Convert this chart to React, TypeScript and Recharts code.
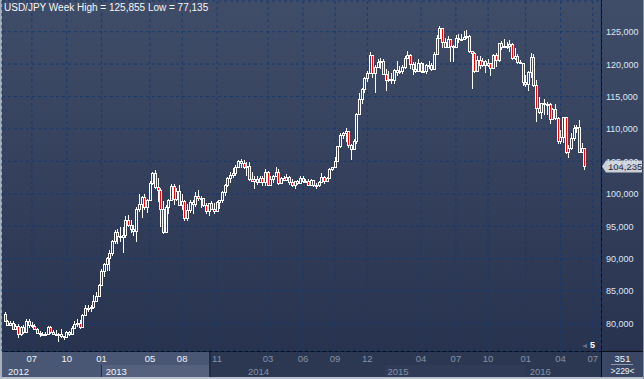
import React from 'react';
import { Bar, CartesianGrid, ComposedChart, ReferenceLine, XAxis, YAxis } from 'recharts';

const FONT = '"Liberation Sans", Arial, sans-serif';

// weekly USD/JPY candles, week of 23 Apr 2012 .. week of 13 Jun 2016
const firstOpen = 81.5;

const close2012 = [
  80.3, 79.8, 80.1, 79.2, 79.6, 78.3, 79.5, 78.7, 80.4, 79.8,
  79.6, 79.1, 78.5, 78.3, 78.4, 78.3, 79.5, 78.7, 78.3, 78.4,
  78.4, 78.0, 77.9, 78.7, 78.4, 79.3, 79.9, 80.0, 79.5, 81.3,
  82.4, 82.4, 82.5, 83.5, 84.2, 85.9, 88.1,
];
const high2012 = [
  81.8, 80.5, 80.3, 80.4, 79.9, 79.9, 79.6, 79.7, 80.6, 80.6,
  80.2, 79.9, 79.3, 78.8, 78.7, 78.7, 79.6, 79.6, 78.9, 79.0,
  78.5, 79.2, 78.1, 78.8, 78.8, 79.6, 80.4, 80.6, 80.5, 81.5,
  82.8, 82.8, 82.8, 84.3, 84.8, 86.0, 88.4,
];
const low2012 = [
  80.2, 79.6, 79.6, 79.0, 79.0, 77.7, 78.0, 78.3, 78.6, 79.3,
  79.3, 79.0, 78.4, 77.9, 78.1, 78.2, 78.3, 78.3, 78.2, 78.2,
  77.135, 77.8, 77.4, 77.8, 78.1, 78.3, 79.2, 79.5, 79.1, 79.3,
  81.2, 81.7, 81.7, 82.2, 83.3, 84.0, 85.8,
];

const close2013 = [
  89.2, 90.1, 90.9, 92.7, 94.1, 93.5, 93.3, 93.6, 96.0, 95.2,
  94.5, 94.2, 97.6, 98.4, 99.5, 98.0, 99.0, 101.6, 103.2, 101.0,
  100.5, 97.6, 94.1, 97.9, 99.1, 101.2, 99.2, 100.4, 98.3, 98.8,
  96.2, 97.5, 98.7, 98.4, 99.6, 99.4, 99.4, 98.3, 97.4, 98.5,
  97.7, 97.4, 98.7, 99.1, 100.3, 101.3, 102.4, 102.9, 103.2, 104.1,
  105.1,
];
const high2013 = [
  89.3, 90.2, 91.3, 92.9, 94.4, 94.5, 94.8, 94.8, 96.6, 96.7,
  95.9, 95.1, 97.9, 99.9, 99.6, 100.0, 99.2, 101.9, 103.3, 103.7,
  102.5, 100.9, 98.8, 98.3, 99.2, 101.5, 101.5, 100.9, 101.3, 99.9,
  99.1, 98.4, 99.0, 99.0, 100.2, 100.6, 99.7, 99.4, 98.6, 98.6,
  98.9, 98.5, 98.8, 99.1, 100.4, 101.5, 102.6, 103.4, 103.9, 104.5,
  105.2,
];
const low2013 = [
  87.1, 88.0, 88.1, 90.4, 92.2, 92.2, 92.5, 90.9, 93.1, 94.8,
  94.0, 93.4, 92.6, 97.2, 96.3, 97.5, 97.1, 98.8, 101.4, 100.7,
  98.7, 94.9, 93.8, 94.3, 96.9, 99.0, 98.2, 98.9, 98.2, 97.5,
  95.8, 95.8, 97.1, 96.8, 97.9, 98.9, 97.8, 97.9, 96.9, 96.6,
  97.6, 96.9, 97.4, 97.6, 98.5, 99.6, 101.0, 101.6, 102.4, 102.7,
  104.0,
];

const close2014 = [
  104.8, 104.2, 104.3, 102.3, 102.0, 102.3, 101.8, 102.5, 101.8, 103.3,
  101.3, 102.2, 102.8, 103.3, 101.6, 102.4, 102.1, 102.6, 101.8, 101.4,
  101.9, 101.7, 102.4, 102.0, 102.0, 101.3, 102.1, 101.3, 101.3, 101.8,
  102.6, 102.0, 102.4, 103.8, 104.1, 105.1, 107.4, 109.0, 109.3, 109.7,
  107.5, 106.9, 108.1, 112.3, 114.6, 116.2, 117.8, 118.6, 121.4, 118.7,
  119.5, 120.3,
];
const high2014 = [
  105.4, 105.2, 104.9, 104.9, 103.4, 102.8, 102.8, 102.8, 102.7, 103.8,
  103.5, 102.8, 102.9, 104.1, 103.8, 102.6, 102.8, 103.0, 102.8, 102.3,
  102.0, 102.1, 102.8, 102.8, 102.3, 102.2, 102.3, 102.1, 101.6, 102.0,
  103.2, 102.8, 102.6, 104.0, 104.2, 105.7, 107.4, 109.4, 109.5, 110.1,
  109.0, 107.6, 108.4, 112.5, 115.6, 116.3, 118.0, 118.9, 121.9, 121.4,
  119.8, 120.8,
];
const low2014 = [
  104.0, 103.8, 102.8, 102.0, 101.8, 100.8, 101.4, 101.6, 101.2, 101.2,
  101.2, 101.2, 101.7, 102.9, 101.3, 101.5, 101.9, 101.9, 101.4, 101.1,
  100.8, 101.4, 101.6, 101.7, 101.7, 101.2, 101.3, 101.1, 100.8, 101.0,
  101.8, 101.5, 101.9, 102.3, 103.5, 104.1, 105.0, 107.0, 108.5, 108.0,
  107.0, 105.2, 106.8, 107.7, 112.5, 113.9, 115.5, 117.2, 118.5, 117.8,
  115.6, 119.5,
];

const close2015 = [
  120.5, 118.5, 117.5, 117.7, 117.5, 119.1, 118.8, 119.0, 119.6, 121.0,
  121.4, 120.0, 119.2, 119.0, 120.2, 118.9, 118.9, 119.8, 119.8, 119.3,
  121.5, 124.1, 125.6, 123.4, 122.7, 123.8, 122.8, 122.6, 124.1, 123.8,
  123.9, 124.2, 124.3, 122.0, 121.7, 119.0, 120.6, 119.9, 120.5, 119.9,
  120.2, 119.4, 121.4, 120.6, 123.2, 122.6, 122.8, 122.8, 123.1, 120.9,
  121.2, 120.3, 120.2,
];
const high2015 = [
  120.9, 120.8, 119.3, 118.9, 118.6, 119.2, 120.5, 119.7, 119.9, 121.3,
  122.0, 121.6, 120.3, 120.4, 120.8, 120.4, 120.1, 120.0, 120.5, 120.1,
  121.8, 124.5, 125.855, 125.2, 124.0, 124.4, 123.7, 123.0, 124.5, 124.6,
  124.6, 125.1, 125.3, 124.5, 122.0, 121.8, 121.3, 121.3, 121.0, 120.6,
  120.8, 120.2, 121.5, 121.7, 123.2, 123.6, 123.8, 123.4, 123.7, 123.3,
  122.5, 121.6, 120.7,
];
const low2015 = [
  119.2, 118.5, 115.8, 117.3, 116.9, 116.9, 118.2, 118.5, 118.4, 119.3,
  120.9, 119.3, 118.3, 118.7, 119.2, 118.7, 118.8, 118.5, 119.2, 118.9,
  119.2, 121.5, 123.8, 122.5, 122.5, 122.6, 120.4, 120.4, 122.6, 123.3,
  123.5, 123.9, 123.8, 121.7, 116.2, 118.6, 119.0, 119.3, 119.5, 118.7,
  119.5, 118.1, 119.2, 119.6, 120.3, 122.2, 122.5, 122.3, 121.9, 120.6,
  120.6, 120.0, 120.0,
];

const close2016 = [
  117.2, 117.0, 118.8, 121.1, 116.8, 113.2, 112.6, 114.0, 113.8, 113.8,
  111.5, 113.1, 111.7, 108.1, 108.8, 111.8, 106.5, 107.1, 108.6, 110.2,
  110.3, 106.5, 107.0, 104.235,
];
const high2016 = [
  120.0, 118.3, 118.9, 121.7, 121.5, 117.6, 114.9, 114.0, 114.6, 114.1,
  114.0, 113.3, 113.8, 111.8, 109.8, 111.9, 111.9, 107.5, 109.4, 110.6,
  110.6, 111.4, 107.9, 106.9,
];
const low2016 = [
  116.7, 116.5, 115.9, 117.8, 116.5, 111.0, 112.3, 111.6, 112.2, 112.2,
  110.7, 111.4, 111.4, 107.7, 107.6, 107.9, 106.1, 105.5, 106.8, 108.2,
  109.3, 106.5, 106.3, 103.6,
];

// x axis: week index of each month label / year start
const monthTicks = [10, 23, 36, 54, 66, 79, 98, 111, 123, 135, 155, 168, 180, 194, 207, 219];
const monthLabels = ['07', '10', '01', '05', '08', '11', '03', '06', '09', '12', '04', '07', '10', '01', '04', '07'];
const yearTicks = [-0.4, 36, 89, 141, 194];
const yearLabels = ['2012', '2013', '2014', '2015', '2016'];
const priceTicks = [80, 85, 90, 95, 100, 105, 110, 115, 120, 125];

const closes = [...close2012, ...close2013, ...close2014, ...close2015, ...close2016];
const highs = [...high2012, ...high2013, ...high2014, ...high2015, ...high2016];
const lows = [...low2012, ...low2013, ...low2014, ...low2015, ...low2016];
const lastPrice = closes[closes.length - 1];

const rows = closes.map((close, i) => {
  const open = i === 0 ? firstOpen : closes[i - 1];
  return {
    i,
    open,
    close,
    high: Math.max(highs[i], open, close),
    low: Math.min(lows[i], open, close),
  };
});

const renderCandle = (props: any) => {
  const { x, y, width, height, payload } = props;
  if (!payload || height == null) return null;
  const { open, close, high, low } = payload;
  const top0 = Math.min(y, y + height);
  const h = Math.abs(height);
  const span = high - low || 1;
  const toY = (v: number) => top0 + ((high - v) / span) * h;
  const cx = Math.round(x + width / 2);
  const bTop = Math.round(toY(Math.max(open, close)));
  const bBot = Math.round(toY(Math.min(open, close)));
  const down = close < open;
  return (
    <g>
      <line x1={cx + 0.5} x2={cx + 0.5} y1={Math.round(top0)} y2={bTop} stroke="#fff" />
      <line x1={cx + 0.5} x2={cx + 0.5} y1={bBot} y2={Math.round(top0 + h)} stroke="#fff" />
      <rect
        x={cx - 0.5}
        y={bTop + 0.5}
        width={2}
        height={Math.max(bBot - bTop, 1)}
        fill={down ? '#ff0000' : 'none'}
        stroke="#fff"
      />
    </g>
  );
};

const renderMonthTick = (props: any) => {
  const { x, payload } = props;
  const label = monthLabels[monthTicks.indexOf(payload.value)];
  return (
    <text x={x} y={362} textAnchor="middle" fontSize={9.5} fontFamily={FONT} fill={x > 210 ? '#8591a8' : '#eef2f8'}>
      {label}
    </text>
  );
};

const renderYearTick = (props: any) => {
  const { x, payload } = props;
  const label = yearLabels[yearTicks.indexOf(payload.value)];
  return (
    <text x={x + 4} y={374.5} fontSize={9.5} fontFamily={FONT} fill={x > 210 ? '#8591a8' : '#eef2f8'}>
      {label}
    </text>
  );
};

const renderPriceTick = (props: any) => {
  const { y, payload } = props;
  return (
    <text x={606} y={y + 3.5} fontSize={9} fontFamily={FONT} fill="#dfe6f3">
      {(payload.value * 1000).toLocaleString('en-US')}
    </text>
  );
};

const PriceTag = (props: any) => {
  const vb = props.viewBox || {};
  const tip = vb.x + vb.width + 1;
  const cy = Math.round(vb.y) + 0.5;
  return (
    <g>
      <polygon
        points={`${tip},${cy} ${tip + 4},${cy - 6} ${tip + 40},${cy - 6} ${tip + 40},${cy + 6} ${tip + 4},${cy + 6}`}
        fill="#c9ced7"
      />
      <text x={tip + 6} y={cy + 3.5} fontSize={9.5} fontFamily={FONT} fill="#1b2333">
        {lastPrice.toLocaleString('en-US', { minimumFractionDigits: 3 }).replace('.', ',')}
      </text>
    </g>
  );
};

const abs = (s: React.CSSProperties): React.CSSProperties => ({ position: 'absolute', ...s });

export default function App() {
  return (
    <div style={{ position: 'relative', width: 644, height: 379, overflow: 'hidden', background: '#2c3852', fontFamily: FONT }}>
      <style>{'body{margin:0}'}</style>
      <div style={abs({ left: 0, top: 0, width: 644, height: 351, background: 'linear-gradient(#404d69, #28334f)' })} />
      <div style={abs({ left: 0, top: 352, width: 210, height: 13, background: '#4a5774' })} />
      <div style={abs({ left: 0, top: 365, width: 101, height: 12, background: '#4a5774' })} />
      <div style={abs({ left: 101, top: 365, width: 109, height: 12, background: '#56627d' })} />
      <div style={abs({ left: 101, top: 365, width: 1, height: 12, background: '#253047' })} />
      <div style={abs({ left: 209, top: 352, width: 2, height: 25, background: '#222c40' })} />
      <div style={abs({ left: 385, top: 365, width: 140, height: 12, background: '#303c57' })} />
      <div style={abs({ left: 601, top: 352, width: 43, height: 25, background: '#3a4764' })} />
      <div style={abs({ left: 0, top: 351, width: 644, height: 1, background: '#0b0e15' })} />
      <div style={abs({ left: 601, top: 0, width: 1, height: 379, background: '#0b0e15' })} />
      <div style={abs({ left: 0, top: 0, width: 2, height: 379, background: '#a8b0bc' })} />
      <div style={abs({ left: 0, top: 377, width: 644, height: 2, background: '#b7bfcb' })} />
      <div style={abs({ left: 643, top: 0, width: 1, height: 379, background: '#8a93a3' })} />

      <div style={abs({ left: 0, top: 0 })}>
        <ComposedChart width={644} height={379} data={rows} margin={{ top: 1, right: 0, bottom: 0, left: 2 }}>
          <CartesianGrid stroke="#1b3a6b" strokeDasharray="3 3" ticks={undefined} />
          <XAxis
            dataKey="i"
            type="number"
            domain={[-1.12, 222.06]}
            allowDataOverflow
            ticks={monthTicks}
            interval={0}
            height={14}
            axisLine={false}
            tickLine={false}
            tick={renderMonthTick}
          />
          <XAxis
            xAxisId="yr"
            dataKey="i"
            type="number"
            domain={[-1.12, 222.06]}
            allowDataOverflow
            ticks={yearTicks}
            interval={0}
            height={14}
            axisLine={false}
            tickLine={false}
            tick={renderYearTick}
          />
          <YAxis
            orientation="right"
            width={43}
            type="number"
            domain={[75.73, 129.74]}
            allowDataOverflow
            ticks={priceTicks}
            interval={0}
            axisLine={false}
            tickLine={false}
            tick={renderPriceTick}
          />
          <Bar dataKey={(d: any) => [d.low, d.high]} barSize={2} shape={renderCandle} isAnimationActive={false} />
          <ReferenceLine y={lastPrice} stroke="none" label={<PriceTag />} />
        </ComposedChart>
      </div>

      <div style={abs({ left: 4, top: 2, fontSize: 10, color: '#f4f6fa', whiteSpace: 'nowrap', lineHeight: '12px' })}>
        USD/JPY Week High = 125,855 Low = 77,135
      </div>
      <div style={abs({ left: 582, top: 344, width: 0, height: 0, borderTop: '2px solid transparent', borderBottom: '2px solid transparent', borderRight: '5px solid #667086' })} />
      <div style={abs({ left: 590, top: 340, fontSize: 9, fontWeight: 'bold', color: '#ffffff', lineHeight: '10px' })}>5</div>
      <div style={abs({ left: 601, top: 353, width: 43, textAlign: 'center', fontSize: 9.5, color: '#f0f3f8', lineHeight: '11px' })}>351</div>
      <div style={abs({ left: 611, top: 364, width: 22, height: 1, background: '#8e99ad' })} />
      <div style={abs({ left: 601, top: 366, width: 43, textAlign: 'center', fontSize: 8.5, color: '#f0f3f8', lineHeight: '10px' })}>&gt;229&lt;</div>
    </div>
  );
}
